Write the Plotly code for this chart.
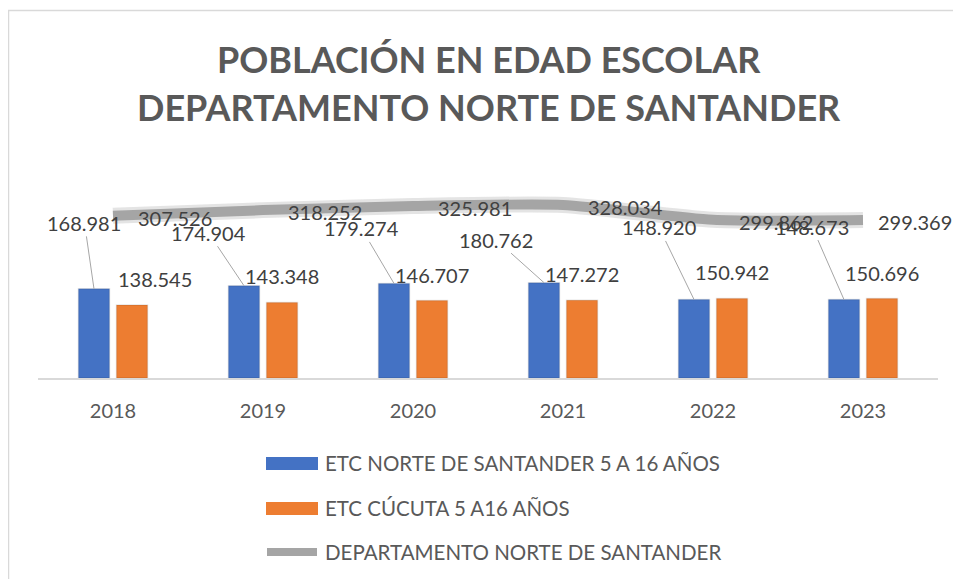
import plotly.graph_objects as go

# ---------------- data ----------------
years = ["2018", "2019", "2020", "2021", "2022", "2023"]
etc_norte = [168981, 174904, 179274, 180762, 148920, 148673]
etc_cucuta = [138545, 143348, 146707, 147272, 150942, 150696]
departamento = [307526, 318252, 325981, 328034, 299862, 299369]
series_names = [
    "ETC NORTE DE SANTANDER 5 A 16 AÑOS",
    "ETC CÚCUTA 5 A16 AÑOS",
    "DEPARTAMENTO NORTE DE SANTANDER",
]
title_lines = ["POBLACIÓN EN EDAD ESCOLAR", "DEPARTAMENTO NORTE DE SANTANDER"]

# label offsets in pixels (styling, not data)
norte_dx = [-9.5, -35.5, -32.5, -48, -35, -32]
norte_dy = [-66, -53, -55, -43, -72, -73]
cucuta_dx = [23, 0, 0, 0, 0, 0]
depto_dx = [23, 23, 23, 23, 24, 13]

# ---------------- layout geometry ----------------
PAGE_OFF = 8  # default body margin of the html page
W, H = 961 - PAGE_OFF, 579 - PAGE_OFF
L, R, T, B = 38 - PAGE_OFF, 23, 167 - PAGE_OFF, 201
PW, PH = W - L - R, H - T - B
BLUE, ORANGE, GREY = "#4472C4", "#ED7D31", "#A5A5A5"
FONT = "Lato"
TXT = "#595959"
LBL = "#404040"
bargap, bargroupgap = 0.493, 0.184
off = (1 - bargap) / 4


def px(xs):
    """screen pixel x -> paper"""
    return (xs - PAGE_OFF - L) / PW


def py(ys):
    """screen pixel y -> paper"""
    return (H - B - (ys - PAGE_OFF)) / PH


def fmt(v):
    return f"{v:,}".replace(",", ".")


fig = go.Figure()
fig.add_trace(go.Bar(x=years, y=etc_norte, name=series_names[0], marker_color=BLUE,
                     marker_line=dict(color="rgba(0,0,0,0.10)", width=1.5)))
fig.add_trace(go.Bar(x=years, y=etc_cucuta, name=series_names[1], marker_color=ORANGE,
                     marker_line=dict(color="rgba(0,0,0,0.10)", width=1.5)))
fig.add_trace(go.Scatter(x=years, y=departamento, mode="lines", name=series_names[2],
                         line=dict(color="rgba(165,165,165,0.30)", width=16, shape="spline", smoothing=0.6),
                         showlegend=False, hoverinfo="skip"))
fig.add_trace(go.Scatter(x=years, y=departamento, mode="lines", name=series_names[2],
                         line=dict(color=GREY, width=10, shape="spline", smoothing=0.6)))

ann = []
lab_font = dict(family=FONT, size=20, color=LBL)
for i, v in enumerate(etc_norte):
    ann.append(dict(x=i - off, y=v, xref="x", yref="y", text=fmt(v), showarrow=True,
                    arrowhead=0, arrowwidth=1, arrowcolor="#A6A6A6", ax=norte_dx[i], ay=norte_dy[i],
                    standoff=0, font=lab_font))
for i, v in enumerate(etc_cucuta):
    ann.append(dict(x=i + off, y=v, xref="x", yref="y", text=fmt(v), showarrow=False,
                    xanchor="center", yanchor="middle", xshift=cucuta_dx[i], yshift=26, font=lab_font))
for i, v in enumerate(departamento):
    ann.append(dict(x=i, y=v, xref="x", yref="y", text=fmt(v), showarrow=False,
                    xanchor="left", yanchor="middle", xshift=depto_dx[i], yshift=-2, font=lab_font))

# title
for t, yc in zip(title_lines, [59, 107]):
    ann.append(dict(x=px(489), y=py(yc), xref="paper", yref="paper", text=t, showarrow=False,
                    xanchor="center", yanchor="middle",
                    font=dict(family=FONT, size=36, color=TXT, weight="bold")))

# custom legend
shapes = []
leg_y = [463, 508, 552]
shapes.append(dict(type="rect", xref="paper", yref="paper", x0=px(266), x1=px(318),
                   y0=py(470), y1=py(457), fillcolor=BLUE, line=dict(width=0)))
shapes.append(dict(type="rect", xref="paper", yref="paper", x0=px(266), x1=px(318),
                   y0=py(515), y1=py(502), fillcolor=ORANGE, line=dict(width=0)))
shapes.append(dict(type="line", xref="paper", yref="paper", x0=px(267), x1=px(317),
                   y0=py(552), y1=py(552), line=dict(color=GREY, width=8)))
for name, yc in zip(series_names, leg_y):
    ann.append(dict(x=px(323), y=py(yc), xref="paper", yref="paper", text=name, showarrow=False,
                    xanchor="left", yanchor="middle", font=dict(family=FONT, size=20.5, color=TXT)))

# chart border
shapes.append(dict(type="rect", xref="paper", yref="paper", x0=px(8.5), x1=px(990),
                   y0=py(600), y1=py(10.5), line=dict(color="#D9D9D9", width=1.5),
                   fillcolor="rgba(0,0,0,0)", layer="below"))

fig.update_layout(
    width=W, height=H,
    margin=dict(l=L, r=R, t=T, b=B),
    paper_bgcolor="white", plot_bgcolor="white",
    barmode="group", bargap=bargap, bargroupgap=bargroupgap,
    showlegend=False,
    annotations=ann, shapes=shapes,
    xaxis=dict(type="category", range=[-0.5, len(years) - 0.5], autorange=False,
               showline=True, linecolor="#D9D9D9", linewidth=1.5,
               showgrid=False, ticks="", ticklabelstandoff=14,
               tickfont=dict(family=FONT, size=20, color=TXT)),
    yaxis=dict(range=[0, 400000], autorange=False, visible=False, showgrid=False),
)

fig.write_html("out.html")
